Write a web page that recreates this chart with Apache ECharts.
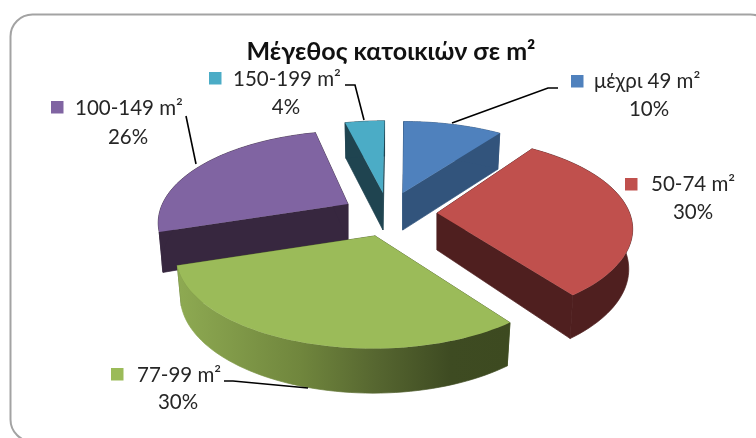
<!DOCTYPE html>
<html>
<head>
<meta charset="utf-8">
<style>html,body{margin:0;padding:0;background:#fff}#c{width:756px;height:438px}</style>
<script src="https://cdn.jsdelivr.net/npm/echarts@6/dist/echarts.min.js"></script>
</head>
<body>
<div id="c"></div>
<script>
const titleText = 'Μέγεθος κατοικιών σε m²';
const categories = ['μέχρι 49 m²', '50-74 m²', '77-99 m²', '100-149 m²', '150-199 m²'];
const values = [10, 30, 30, 26, 4];
const topColors = ['#4f81bd', '#c0504d', '#9bbb59', '#8064a2', '#4bacc6'];
const sideColors = ['#32547c', '#4f1f1f', '#55652f', '#37273f', '#1f4450'];
const paintOrder = [2, 4, 5, 3, 1];

// layout of the tilted pie
const CX = 390, CY = 214.5, RX = 192, RY = 87.7, PERSP = 0.217;
const EXPLODE_X = 46, EXPLODE_Y = 22, DEPTH = 39, APEX_DEPTH = 37, BOTTOM_XS = 0.98, BOTTOM_YS = 1.05;
// small per-slice corrections for the original's perspective
const apexNudge = [[-1.5, -0.5], [1, -1.5], [-0.8, 0.4], [-1.7, 0], [-1.3, 0.3]];
const arcShift = [[-0.5, 0], [0, -5.3], [-2.7, 1.1], [5.2, -1], [0.3, 0.2]];
// label placement: [key x, key y, text x, text y, percent centre x, percent y]
const labelPos = [
  [571, 75, 594, 81, 649, 109],
  [625, 178, 651, 184, 693, 212],
  [111, 368, 137, 375, 178, 402],
  [51, 101, 75, 108, 128, 137],
  [209, 72, 233, 79, 286, 107]
];
const leaders = [
  [[558, 88], [548, 88], [452, 123]],
  [],
  [[224, 381], [233, 381], [308, 388]],
  [[186, 116], [196, 164]],
  [[345, 85], [355, 85], [364, 120]]
];

const total = values.reduce((a, b) => a + b, 0);
const starts = [];
values.reduce((acc, v, i) => { starts[i] = acc; return acc + v; }, 0);
const toAngle = v => v / total * Math.PI * 2;

function rel(theta) {
  const u = Math.sin(theta), v = Math.cos(theta), s = 1 / (1 + PERSP * v);
  return [RX * u * s, -RY * v * s];
}
function topPt(a, theta) { const p = rel(theta); return [a[0] + p[0], a[1] + p[1]]; }
function botPt(a, theta) { const p = rel(theta); return [a[0] + p[0] * BOTTOM_XS, a[1] + p[1] * BOTTOM_YS + DEPTH]; }

function renderItem(params, api) {
  const i = params.dataIndex;
  const val = api.value(0);
  const t0 = toAngle(starts[i]), t1 = t0 + toAngle(val), mid = (t0 + t1) / 2;
  const base = [CX + EXPLODE_X * Math.sin(mid), CY - EXPLODE_Y * Math.cos(mid)];
  const apex = [base[0] + apexNudge[i][0], base[1] + apexNudge[i][1]];
  const arcC = [base[0] + arcShift[i][0], base[1] + arcShift[i][1]];
  const apexB = [apex[0], apex[1] + APEX_DEPTH];
  const tops = [], bots = [];
  const n = 60;
  for (let k = 0; k <= n; k++) {
    const t = t0 + (t1 - t0) * k / n;
    tops.push(topPt(arcC, t));
    bots.push(botPt(arcC, t));
  }
  const z = paintOrder[i] * 10;
  let wallFill = sideColors[i];
  if (i === 2) {
    const xs = tops.map(p => p[0]);
    wallFill = new echarts.graphic.LinearGradient(Math.min(...xs), 0, Math.max(...xs), 0, [
      { offset: 0, color: '#8eaa52' },
      { offset: 0.37, color: '#70863d' },
      { offset: 0.6, color: '#566630' },
      { offset: 0.82, color: '#3e4b22' },
      { offset: 1, color: '#3d4a20' }
    ], true);
  }
  const poly = (pts, fill, zz, seam) => ({ type: 'polygon', z2: zz, shape: { points: pts }, style: { fill: fill, stroke: seam ? fill : null, lineWidth: seam ? 0.7 : 0 } });
  const children = [
    poly([apex, tops[0], bots[0], apexB], sideColors[i], z, true),
    poly([apex, tops[n], bots[n], apexB], sideColors[i], z, true),
    poly(tops.concat(bots.slice().reverse()), wallFill, z + 1, true),
    poly([apex].concat(tops), topColors[i], z + 2, false)
  ];
  const lp = labelPos[i];
  children.push({ type: 'rect', z2: 100, shape: { x: lp[0], y: lp[1], width: 12.5, height: 12.5 }, style: { fill: topColors[i] } });
  const font = '20.5px Lato, "Noto Sans", sans-serif';
  children.push({ type: 'text', z2: 100, style: { text: categories[i], x: lp[2], y: lp[3], font: font, fill: '#262626', textAlign: 'left', textVerticalAlign: 'middle' } });
  children.push({ type: 'text', z2: 100, style: { text: val + '%', x: lp[4], y: lp[5], font: font, fill: '#262626', textAlign: 'center', textVerticalAlign: 'middle' } });
  if (leaders[i].length) {
    children.push({ type: 'polyline', z2: 100, shape: { points: leaders[i] }, style: { stroke: '#000', lineWidth: 1.6, fill: null } });
  }
  return { type: 'group', children: children };
}

const chart = echarts.init(document.getElementById('c'), null, { renderer: 'canvas' });
chart.setOption({
  animation: false,
  backgroundColor: '#fff',
  title: {
    text: titleText,
    left: 386, top: 34, textAlign: 'center',
    textStyle: { fontFamily: 'Lato, "Noto Sans", sans-serif', fontWeight: 'bold', fontSize: 25, color: '#111' }
  },
  graphic: [{
    type: 'rect', silent: true, z: -1,
    shape: { x: 10.5, y: 14.5, width: 762, height: 427, r: 22 },
    style: { fill: '#fff', stroke: '#a3a3a3', lineWidth: 2 }
  }],
  series: [{
    type: 'custom',
    coordinateSystem: 'none',
    renderItem: renderItem,
    data: values.map(v => [v]),
    silent: true
  }]
});
</script>
</body>
</html>
